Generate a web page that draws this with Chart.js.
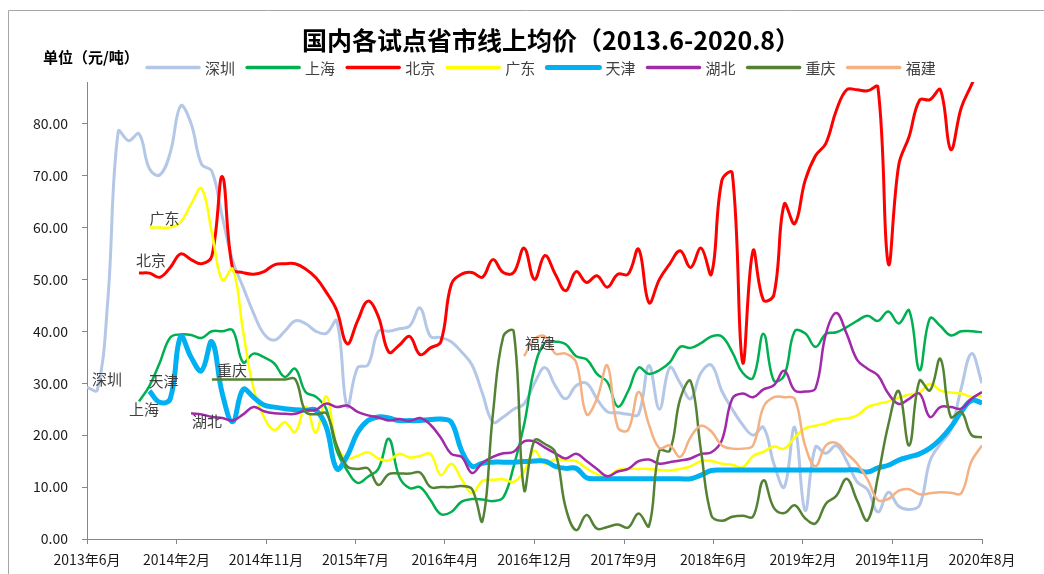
<!DOCTYPE html>
<html><head><meta charset="utf-8">
<script src="https://cdn.jsdelivr.net/npm/chart.js@4.4.1/dist/chart.umd.min.js"></script>
<style>html,body{margin:0;padding:0;background:#fff;}#wrap{width:1044px;height:574px;}</style>
</head><body><div id="wrap"><canvas id="c" width="1044" height="574"></canvas></div>
<script>
// ---------- DATA ----------
const titleText = '国内各试点省市线上均价（2013.6-2020.8）';
const unitText = '单位（元/吨）';
const months = [];
for (let k = 0; k < 87; k++) { const t = 2013 * 12 + 5 + k; months.push(Math.floor(t / 12) + '年' + (t % 12 + 1) + '月'); }
const tickLabels = ['2013年6月','2014年2月','2014年11月','2015年7月','2016年4月','2016年12月','2017年9月','2018年6月','2019年2月','2019年11月','2020年8月'];
const yTicks = [0,10,20,30,40,50,60,70,80];
const seriesNames = ['深圳','上海','北京','广东','天津','湖北','重庆','福建'];
const _ = null;

const shenzhen = [29.2,28.7,46,78.5,76.7,78,71.3,70.1,74.4,83.4,80,72.2,70.8,62,53.6,48.5,43.5,39.5,38.3,40,42,41.5,40,39.6,42,25.5,33,33.5,40,40,40.5,41,44.5,39,38.8,38,36,33.5,28,22.5,23.5,25,26,30,33,29.5,27,29.5,30,27,24.5,24.3,24,24,33.4,25,33,30,27,32,33.5,28.5,25,22,20,21.5,14.5,10,21.5,5.5,17.7,16.5,18,15,11,9.5,5.2,9,6.3,5.7,6.5,15,18.3,21,29,35.7,30];
const shanghai = [_,_,_,_,_,26.5,29.5,34,38.8,39.4,39.3,38.7,40,40,40.2,34,35.7,35,33.8,31.2,32.8,28.3,27.4,25,17,13.2,10.8,12,13.5,19.3,12,9.8,10,7.5,4.8,5.2,7.2,7.7,7.6,7.3,8,14,22,33,37.8,38,37.5,35.2,34.6,31.8,30.2,25.5,28.5,33,31.8,32.5,34,37,36.8,37.7,39,39,36,32,31,39.5,30.5,31.5,40,39.6,37,39.5,39.8,40.8,42,43,42,43.8,41.5,44,32.5,42.5,41,39.2,40,40,39.8];
const beijing = [_,_,_,_,_,51.2,51.2,50.4,52.3,54.9,53.8,53,54.5,69.8,52,51.3,51,51.5,52.8,53,53,52,50.3,47.5,44,37.6,42,45.8,42.8,36,37.3,39,35.5,36.8,38,49,51,51.3,50.4,53.8,51.3,51.3,56,50,54.6,51,47.8,51.5,49.4,50.7,48.5,51,51,55.8,45.5,50,53,55.5,52.3,56,51,69,70.5,34,55.5,46,47,64.5,60.7,69,73.8,76.2,82.5,86.5,86.5,86.3,87,53,72,77.5,84.5,84.6,86.5,75,83,87.5,92];
const guangdong = [_,_,_,_,_,_,60,60,60,61,64.5,67.5,59,49.8,52,40,29,23.5,21,22.5,20.6,25.5,20.5,27.5,18,15.5,16,16.7,15.5,15.1,16.4,15.7,16,16.4,12.3,14.5,11.5,8.8,11.2,11.4,11.5,11,13,17,14.5,15.3,15.2,15,13.6,12.5,12,13.3,13.5,13.5,13.5,13.3,13.2,13.5,14,15,15,14.5,14.3,13.8,16,16.8,17.8,17.4,19.5,21.3,21.8,22.3,23,23.2,23.8,25.4,26,26.5,27.2,27.8,28.2,29.9,28.6,28.2,28,27.4,27.6];
const tianjin = [_,_,_,_,_,_,28.5,26.3,27,39,35,32.4,38,28,22.6,28.8,27.3,25.8,25.4,25.1,24.9,24.8,24.8,21.5,13.5,16,20.5,22.8,23.5,23.3,22.8,22.8,22.8,23,23.1,22.5,17,14,14.6,14.8,14.8,14.8,14.9,15,15,14,13.6,13.6,11.8,11.6,11.6,11.6,11.6,11.6,11.6,11.6,11.6,11.6,11.6,12.3,13.2,13.3,13.3,13.3,13.3,13.3,13.3,13.3,13.3,13.3,13.3,13.3,13.3,13.3,13.3,12.9,13.7,14.2,15.2,15.8,16.4,17.5,19.2,21.5,24.5,26.7,26.2];
const hubei = [_,_,_,_,_,_,_,_,_,_,24.2,24,23.5,23.3,22.8,24,25.4,24.6,24.2,24.1,24.1,24.8,24.9,26.1,25.4,25.7,24.5,23.8,23.4,22.8,23.1,22.7,23.3,22,19.5,16.4,15.8,12.7,14.7,15.8,16.5,16.8,18.8,18.8,17.6,16.5,15.5,16.4,15,13.5,12.1,13,13.5,15,15.3,14.5,14.8,15.1,15.5,16.4,16.7,19,27,28,27.3,28.8,29.6,32.4,28.6,28.4,29,39.5,43.5,39.5,34.5,32.8,31.5,28,26,27,28,23.5,25.4,25.4,25.1,27,28.3];
const chongqing = [_,_,_,_,_,_,_,_,_,_,_,_,30.7,30.7,30.7,30.7,30.7,30.7,30.7,30.7,30.8,24.5,24,24.2,18,14,13.5,13.6,10.4,12.5,12.6,12.6,12.8,10,10,10,10.2,9.6,3.5,24,39,40,9.5,19,18.3,16.7,6,1.7,4.6,2,2.3,2.8,2.2,4.9,2.5,17,17,27,30.4,17,4.5,3.5,4.3,4.5,4.3,11.3,6,5,6.5,4,3,6.8,8.3,11.6,7.4,3.6,12,22,28.5,18,30.5,28.6,34.7,23.5,24.5,20,19.6];
const fujian = [_,_,_,_,_,_,_,_,_,_,_,_,_,_,_,_,_,_,_,_,_,_,_,_,_,_,_,_,_,_,_,_,_,_,_,_,_,_,_,_,_,_,35.2,38.5,39,35.7,35.7,34,24,27,33.4,21.5,21,28.3,22,17.5,18,15.8,19.6,21.8,20.7,18,17.4,17.4,18,25.4,27.3,27.3,27,18,14,18,18.5,16.5,14.5,11.5,7.5,7.7,9.3,9.6,8.6,8.8,9,8.9,8.8,15,18];

const seriesValues = [shenzhen, shanghai, beijing, guangdong, tianjin, hubei, chongqing, fujian];

// ---------- STYLE ----------
const colors = ['#B4C7E7','#00B050','#FF0000','#FFFF00','#00B0F0','#A12AA8','#548235','#F4B183'];
const widths = [3,2.5,3,2.5,5,2.5,2.5,2.5];
const labelOffsets = [[20,-8],[5,8],[12,-13],[15,-9],[14,-10],[16,8],[20,-9],[16,-13]];
const CJK = '"Noto Sans CJK SC","Noto Sans",sans-serif';

const datasets = seriesNames.map((name, s) => ({
  label: name,
  data: seriesValues[s].map((v, i) => ({ x: i, y: v })),
  borderColor: colors[s],
  backgroundColor: colors[s],
  borderWidth: widths[s],
  pointRadius: 0,
  pointHoverRadius: 0,
  tension: 0.4,
  fill: false,
  order: seriesNames.length - s
}));

const decor = {
  id: 'decor',
  beforeDraw(chart) {
    const ctx = chart.ctx;
    ctx.save();
    ctx.fillStyle = '#fff';
    ctx.fillRect(0, 0, chart.width, chart.height);
    ctx.strokeStyle = '#A6A6A6';
    ctx.lineWidth = 1;
    ctx.beginPath();
    ctx.moveTo(8.5, chart.height); ctx.lineTo(8.5, 10.5); ctx.lineTo(chart.width, 10.5);
    ctx.stroke();
    ctx.restore();
  },
  afterDatasetsDraw(chart) {
    const ctx = chart.ctx;
    ctx.save();
    ctx.font = '15px ' + CJK;
    ctx.fillStyle = '#404040';
    ctx.textAlign = 'center';
    ctx.textBaseline = 'middle';
    chart.data.datasets.forEach((ds, s) => {
      const meta = chart.getDatasetMeta(s);
      const idx = seriesValues[s].findIndex(v => v !== null);
      const pt = meta.data[idx];
      if (!pt) return;
      ctx.fillText(ds.label, pt.x + labelOffsets[s][0], pt.y + labelOffsets[s][1]);
    });
    ctx.restore();
  },
  afterDraw(chart) {
    const ctx = chart.ctx;
    ctx.save();
    ctx.font = 'bold 25px ' + CJK;
    ctx.fillStyle = '#000';
    ctx.textAlign = 'center';
    ctx.textBaseline = 'middle';
    ctx.fillText(titleText, 551, 40);
    ctx.font = 'bold 15px ' + CJK;
    ctx.textAlign = 'left';
    ctx.fillText(unitText, 43, 57);
    ctx.font = '15px ' + CJK;
    chart.data.datasets.forEach((ds, s) => {
      const x0 = 147 + s * 100.1;
      ctx.strokeStyle = ds.borderColor;
      ctx.lineWidth = Math.max(ds.borderWidth, 3.5);
      ctx.lineCap = 'round';
      ctx.beginPath(); ctx.moveTo(x0, 67.5); ctx.lineTo(x0 + 52, 67.5); ctx.stroke();
      ctx.fillStyle = '#404040';
      ctx.fillText(ds.label, x0 + 58, 68);
    });
    ctx.restore();
  }
};

new Chart(document.getElementById('c'), {
  type: 'line',
  data: { datasets },
  plugins: [decor],
  options: {
    responsive: false,
    animation: false,
    devicePixelRatio: 1,
    layout: { padding: { top: 82, right: 62, left: 0, bottom: 0 } },
    plugins: { legend: { display: false }, title: { display: false }, tooltip: { enabled: false } },
    scales: {
      x: {
        type: 'linear', min: 0, max: months.length - 1,
        afterFit: s => { s.height = 35; },
        afterBuildTicks: s => { s.ticks = tickLabels.map((_, i) => ({ value: i * (months.length - 1) / (tickLabels.length - 1) })); },
        ticks: { autoSkip: false, maxRotation: 0, padding: 7, color: '#1a1a1a', font: { family: CJK, size: 14 }, callback: (v, i) => tickLabels[i] },
        grid: { drawOnChartArea: false, drawTicks: true, tickLength: 5, color: '#868686' },
        border: { display: true, color: '#868686', width: 1 }
      },
      y: {
        min: 0, max: 88,
        afterFit: s => { s.width = 87; },
        afterBuildTicks: s => { s.ticks = yTicks.map(v => ({ value: v })); },
        ticks: { padding: 14, color: '#1a1a1a', font: { family: CJK, size: 14 }, callback: v => Number(v).toFixed(2) },
        grid: { drawOnChartArea: false, drawTicks: true, tickLength: 5, color: '#868686' },
        border: { display: true, color: '#868686', width: 1 }
      }
    }
  }
});
</script></body></html>
